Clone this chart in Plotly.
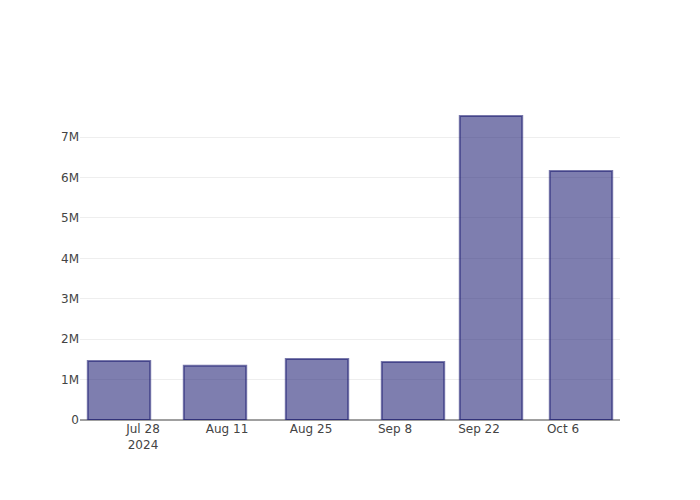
import plotly.graph_objects as go

dates = ["2024-07-24", "2024-08-09", "2024-08-26", "2024-09-11", "2024-09-24", "2024-10-09"]
values = [1460000, 1340000, 1510000, 1435000, 7520000, 6160000]

fig = go.Figure(
    go.Bar(
        x=dates,
        y=values,
        marker=dict(color="rgba(25,25,112,0.56)",
                    line=dict(color="rgba(25,25,112,0.58)", width=2)),
    )
)
fig.update_layout(
    template="none",
    width=700,
    height=500,
    margin=dict(l=80, r=80, t=100, b=80),
    paper_bgcolor="white",
    plot_bgcolor="white",
    font=dict(family="DejaVu Sans, sans-serif", size=12, color="#444"),
    showlegend=False,
)
fig.update_xaxes(showgrid=False, showline=False, ticks="", zeroline=False)
fig.update_yaxes(showgrid=True, gridcolor="#eee", zeroline=True,
                 zerolinecolor="rgb(160,160,160)", zerolinewidth=2,
                 ticks="", showline=False)
fig.write_html("out.html")
